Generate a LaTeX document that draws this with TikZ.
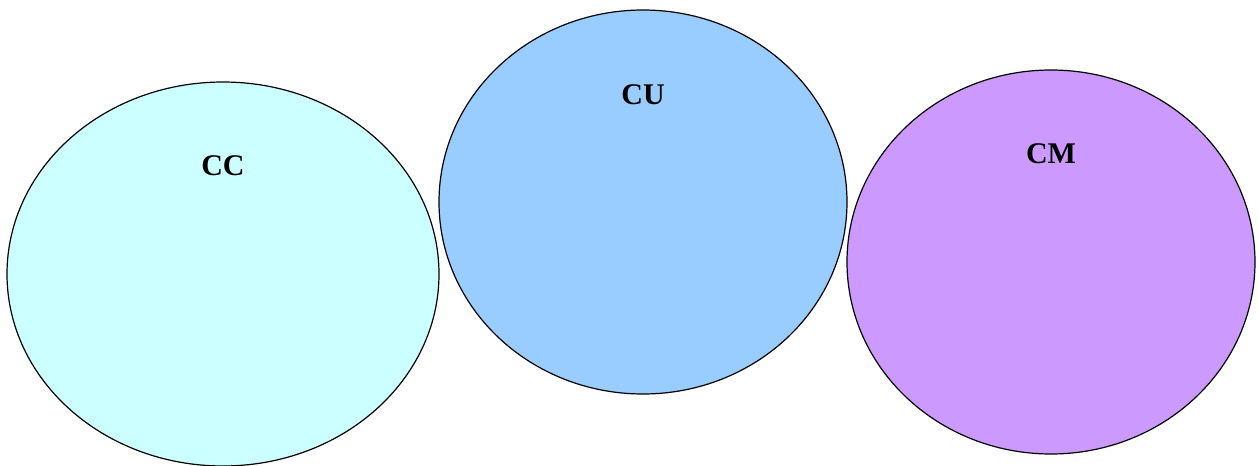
\documentclass[tikz,border=0pt]{standalone}
\usepackage{fontspec}
\setmainfont{Liberation Serif}
\usetikzlibrary{shapes.geometric,positioning}
\definecolor{ccfill}{HTML}{CCFFFF}
\definecolor{cufill}{HTML}{99CCFF}
\definecolor{cmfill}{HTML}{CC99FF}
\begin{document}
\begin{tikzpicture}[x=1pt,y=-1pt,
set/.style={draw,ellipse,line width=1.2pt,inner sep=0pt,outer sep=0pt},
setlabel/.style={font=\fontsize{30}{30}\selectfont\bfseries}]

        \useasboundingbox (0,0) rectangle (1259,466);
        \node [set, fill=ccfill, minimum width=432pt, minimum height=384pt] (CC) at (223,274) {};
        \node [set, fill=cufill, minimum width=408pt, minimum height=384pt] (CU) at (643,202) {};
        \node [set, fill=cmfill, minimum width=408pt, minimum height=384pt] (CM) at (1051,262) {};
        \node [setlabel] (CClabel) at (223,166) {CC};
        \node [setlabel] (CUlabel) at (643,95) {CU};
        \node [setlabel] (CMlabel) at (1051,154) {CM};
    \end{tikzpicture}
\end{document}
